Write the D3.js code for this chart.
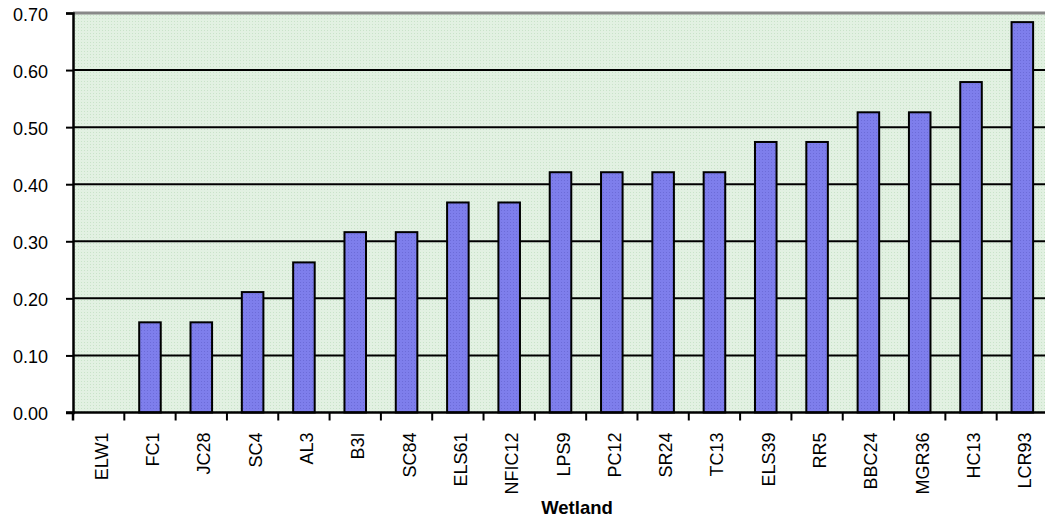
<!DOCTYPE html>
<html lang="en">
<head>
  <meta charset="UTF-8">
  <title>Wetland bar chart</title>
  <script src="https://cdn.jsdelivr.net/npm/d3@7"></script>
  <style>
    body { margin: 0; background: #fff; }
    svg text { font-family: "Liberation Sans", Arial, sans-serif; fill: #000; }
    .axis text { font-size: 18px; }
  </style>
</head>
<body>
<div id="chart"></div>

<script>
  // data
  var wetlands = ["ELW1", "FC1", "JC28", "SC4", "AL3", "B3I", "SC84", "ELS61", "NFIC12",
    "LPS9", "PC12", "SR24", "TC13", "ELS39", "RR5", "BBC24", "MGR36", "HC13", "LCR93"];
  var values = [0, 0.158, 0.158, 0.211, 0.263, 0.316, 0.316, 0.368, 0.368,
    0.421, 0.421, 0.421, 0.421, 0.474, 0.474, 0.526, 0.526, 0.579, 0.684];
  var yTicks = [0, 0.1, 0.2, 0.3, 0.4, 0.5, 0.6, 0.7];
  var xTitle = "Wetland";

  var width = 1045, height = 519;
  var margin = {top: 13, left: 73, bottom: 106.5};
  var plotRight = 1048;

  var svg = d3.select("#chart").append("svg")
    .attr("width", width)
    .attr("height", height);

  // dotted green fill like the original
  var defs = svg.append("defs");
  var bg = defs.append("pattern").attr("id", "bgpat")
    .attr("width", 3).attr("height", 3).attr("patternUnits", "userSpaceOnUse");
  bg.append("rect").attr("width", 3).attr("height", 3).attr("fill", "#e2f1e2");
  bg.append("rect").attr("width", 1).attr("height", 1).attr("fill", "#c9e3c9");
  var bp = defs.append("pattern").attr("id", "barpat")
    .attr("width", 3).attr("height", 3).attr("patternUnits", "userSpaceOnUse");
  bp.append("rect").attr("width", 3).attr("height", 3).attr("fill", "#7e7eec");
  bp.append("rect").attr("width", 1).attr("height", 1).attr("fill", "#6c6cd8");

  var x = d3.scaleBand()
    .domain(wetlands)
    .range([margin.left, plotRight])
    .paddingInner(0.58)
    .paddingOuter(0.29);

  var y = d3.scaleLinear()
    .domain([0, 0.7])
    .range([height - margin.bottom, margin.top]);

  svg.append("rect")
    .attr("x", margin.left).attr("y", margin.top)
    .attr("width", plotRight - margin.left)
    .attr("height", y(0) - margin.top)
    .attr("fill", "url(#bgpat)");

  // gridlines
  svg.append("g")
    .selectAll("line")
    .data(yTicks.filter(function(d) { return d > 0 && d < 0.7; }))
    .enter().append("line")
    .attr("x1", margin.left).attr("x2", plotRight)
    .attr("y1", function(d) { return y(d); })
    .attr("y2", function(d) { return y(d); })
    .attr("stroke", "#000").attr("stroke-width", 2);

  // top border
  svg.append("line")
    .attr("x1", margin.left).attr("x2", plotRight)
    .attr("y1", y(0.7)).attr("y2", y(0.7))
    .attr("stroke", "#888").attr("stroke-width", 3);

  // bars
  svg.append("g")
    .selectAll("rect")
    .data(wetlands)
    .enter().append("rect")
    .attr("x", function(d) { return x(d); })
    .attr("width", x.bandwidth())
    .attr("y", function(d, i) { return y(values[i]); })
    .attr("height", function(d, i) { return y(0) - y(values[i]); })
    .attr("fill", "url(#barpat)")
    .attr("stroke", "#000")
    .attr("stroke-width", 2)
    .style("display", function(d, i) { return values[i] > 0 ? null : "none"; });

  // y axis
  var yAxis = d3.axisLeft(y)
    .tickValues(yTicks)
    .tickFormat(d3.format(".2f"))
    .tickSize(7)
    .tickPadding(18);
  var gy = svg.append("g")
    .attr("class", "axis")
    .attr("transform", "translate(" + margin.left + ",0)")
    .call(yAxis);
  gy.select(".domain").attr("stroke-width", 2.5);
  gy.selectAll(".tick line").attr("stroke-width", 2);
  gy.selectAll(".tick text").attr("dy", "0.4em");

  // x axis with ticks on band boundaries
  var gx = svg.append("g")
    .attr("class", "axis")
    .attr("transform", "translate(0," + y(0) + ")");
  var step = x.step();
  gx.append("line")
    .attr("x1", margin.left - 7).attr("x2", plotRight)
    .attr("stroke", "#000").attr("stroke-width", 2.5);
  gx.append("line")
    .attr("x1", margin.left).attr("x2", margin.left)
    .attr("y1", 0).attr("y2", 8)
    .attr("stroke", "#000").attr("stroke-width", 2.5);
  gx.selectAll("line.tk")
    .data(wetlands.slice(1))
    .enter().append("line")
    .attr("class", "tk")
    .attr("x1", function(d) { return x(d) - x.paddingInner() * step / 2; })
    .attr("x2", function(d) { return x(d) - x.paddingInner() * step / 2; })
    .attr("y1", 0).attr("y2", 8)
    .attr("stroke", "#000").attr("stroke-width", 2);
  gx.selectAll("text")
    .data(wetlands)
    .enter().append("text")
    .attr("transform", function(d) {
      return "translate(" + (x(d) + x.bandwidth() / 2 + 9) + ",20) rotate(-90)";
    })
    .attr("text-anchor", "end")
    .text(function(d) { return d; });

  svg.append("text")
    .attr("x", 577)
    .attr("y", 514)
    .attr("text-anchor", "middle")
    .attr("font-weight", "bold")
    .attr("font-size", "18.5px")
    .text(xTitle);
</script>
</body>
</html>
